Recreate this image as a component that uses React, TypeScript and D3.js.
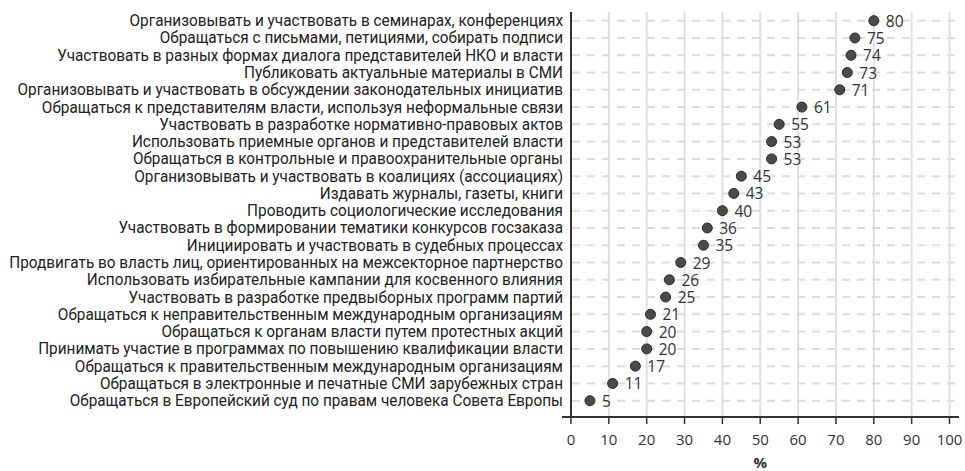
import React, { useLayoutEffect, useRef, useState } from "react";
import * as d3 from "d3";

const categories: string[] = [
  "Организовывать и участвовать в семинарах, конференциях",
  "Обращаться с письмами, петициями, собирать подписи",
  "Участвовать в разных формах диалога представителей НКО и власти",
  "Публиковать актуальные материалы в СМИ",
  "Организовывать и участвовать в обсуждении законодательных инициатив",
  "Обращаться к представителям власти, используя неформальные связи",
  "Участвовать в разработке нормативно-правовых актов",
  "Использовать приемные органов и представителей власти",
  "Обращаться в контрольные и правоохранительные органы",
  "Организовывать и участвовать в коалициях (ассоциациях)",
  "Издавать журналы, газеты, книги",
  "Проводить социологические исследования",
  "Участвовать в формировании тематики конкурсов госзаказа",
  "Инициировать и участвовать в судебных процессах",
  "Продвигать во власть лиц, ориентированных на межсекторное партнерство",
  "Использовать избирательные кампании для косвенного влияния",
  "Участвовать в разработке предвыборных программ партий",
  "Обращаться к неправительственным международным организациям",
  "Обращаться к органам власти путем протестных акций",
  "Принимать участие в программах по повышению квалификации власти",
  "Обращаться к правительственным международным организациям",
  "Обращаться в электронные и печатные СМИ зарубежных стран",
  "Обращаться в Европейский суд по правам человека Совета Европы",
];

const values: number[] = [80, 75, 74, 73, 71, 61, 55, 53, 53, 45, 43, 40, 36, 35, 29, 26, 25, 21, 20, 20, 17, 11, 5];

const xTicks: number[] = [0, 10, 20, 30, 40, 50, 60, 70, 80, 90, 100];
const xTitle = "%";

const W = 965;
const H = 471;
const axisX = 571;
const axisY = 417;
const plotTop = 12;
const plotRight = 959;
const labelRight = 563;
const longestTarget = 546; // pixel width of the widest label in the reference

export default function App() {
  const x = d3.scaleLinear().domain([0, 100]).range([571, 949.5]);
  const y = d3.scalePoint<string>().domain(categories).range([20.7, 400.7]);
  const measureRef = useRef<SVGTextElement>(null);
  const [sx, setSx] = useState<number | null>(null);

  useLayoutEffect(() => {
    if (measureRef.current) {
      const w = measureRef.current.getComputedTextLength();
      setSx(w > 0 ? longestTarget / w : 0.8);
    }
  }, []);

  const labelFont = "Roboto, 'Noto Sans', sans-serif";
  const numFont = "'Open Sans', sans-serif";
  const scaleX = sx ?? 0.8;

  return (
    <svg width={W} height={H} style={{ position: "absolute", left: 0, top: 0, background: "#fff" }}>
      {sx === null && (
        <text ref={measureRef} x={10} y={30} fontFamily={labelFont} fontSize={16.5} opacity={0}>
          {categories[4]}
        </text>
      )}
      {/* vertical gridlines */}
      {xTicks.filter((t) => t > 0).map((t) => (
        <line key={"vg" + t} x1={x(t)} x2={x(t)} y1={plotTop} y2={axisY} stroke="#e0e0e0" strokeWidth={2} />
      ))}
      {/* horizontal dashed gridlines */}
      {categories.map((c) => (
        <line
          key={"hg" + c}
          x1={axisX + 1}
          x2={plotRight}
          y1={y(c)}
          y2={y(c)}
          stroke="#dcdcdc"
          strokeWidth={2}
          strokeDasharray="8,7"
        />
      ))}
      {/* axes */}
      <line x1={axisX} x2={axisX} y1={plotTop} y2={axisY} stroke="#333" strokeWidth={2} />
      <line x1={562} x2={plotRight} y1={axisY} y2={axisY} stroke="#333" strokeWidth={2} />
      {xTicks.map((t) => (
        <g key={"xt" + t}>
          <line x1={x(t)} x2={x(t)} y1={axisY} y2={axisY + 7} stroke="#333" strokeWidth={1.5} />
          <text x={x(t)} y={445} textAnchor="middle" fontFamily={numFont} fontSize={15} fill="#333">
            {t}
          </text>
        </g>
      ))}
      <text x={x(50)} y={468} textAnchor="middle" fontFamily={numFont} fontSize={15} fontWeight="bold" fill="#333">
        {xTitle}
      </text>
      {/* category labels */}
      {sx !== null &&
        categories.map((c) => (
          <text
            key={"cl" + c}
            transform={`translate(${labelRight},${(y(c) as number) + 5.5}) scale(${scaleX},1)`}
            textAnchor="end"
            fontFamily={labelFont}
            fontSize={16.5}
            fill="#222"
          >
            {c}
          </text>
        ))}
      {/* dots and value labels */}
      {categories.map((c, i) => (
        <g key={"pt" + c}>
          <circle cx={x(values[i])} cy={y(c)} r={5} fill="#4a4a4a" stroke="#2a2a2a" strokeWidth={1} />
          <text x={x(values[i]) + 12} y={(y(c) as number) + 6} fontFamily={numFont} fontSize={15.5} fill="#333">
            {values[i]}
          </text>
        </g>
      ))}
    </svg>
  );
}
